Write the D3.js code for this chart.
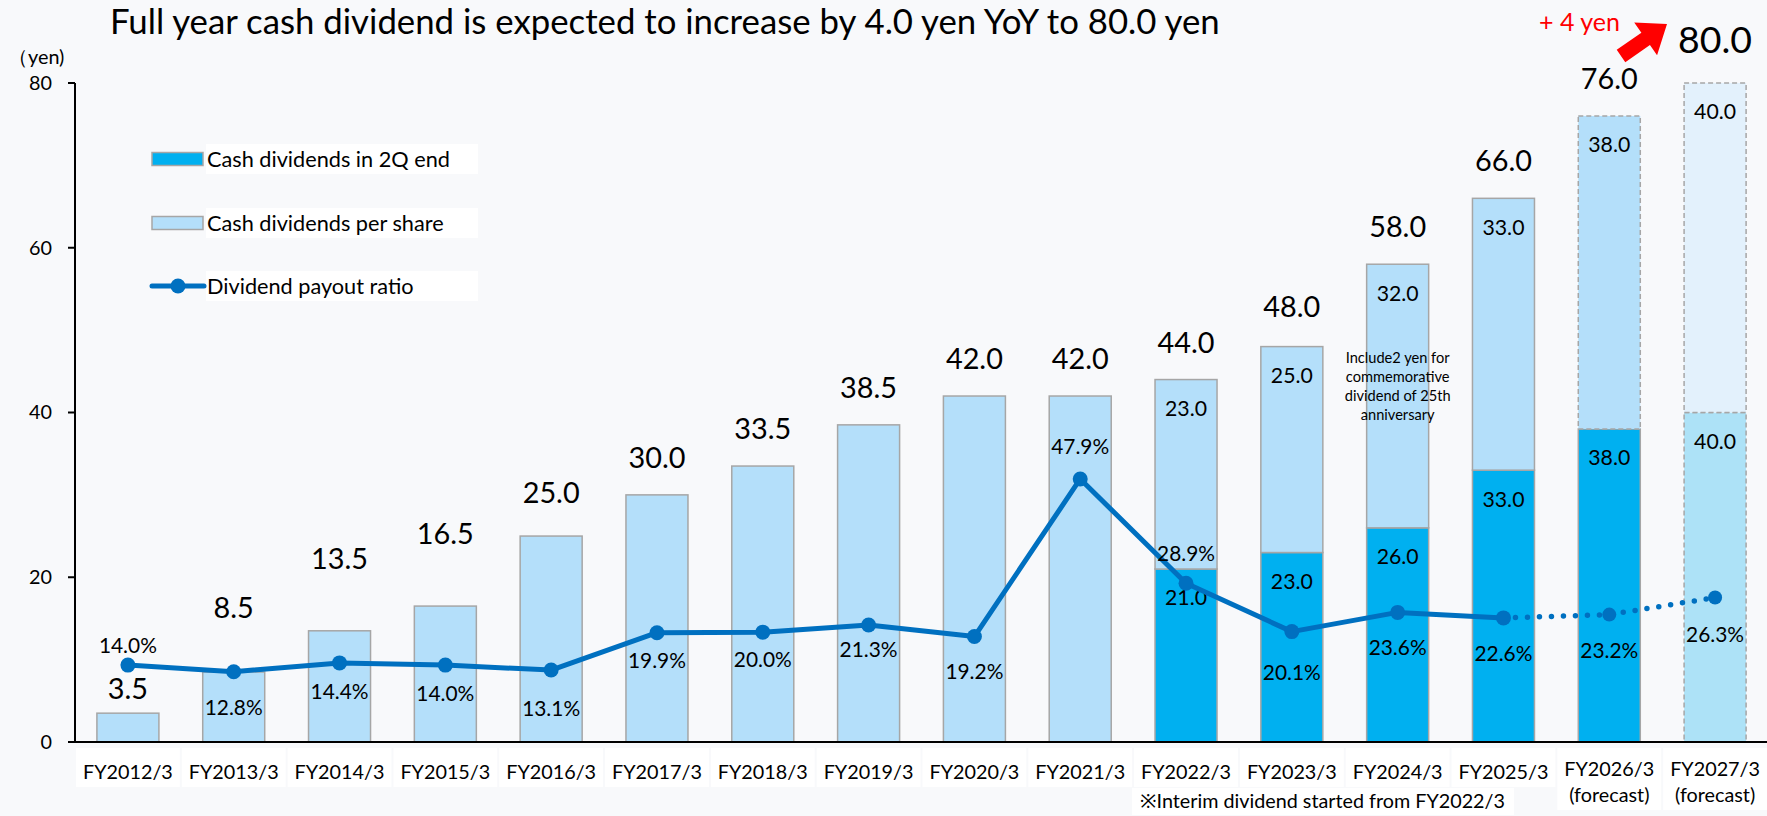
<!DOCTYPE html>
<html>
<head>
<meta charset="utf-8">
<script src="https://cdn.jsdelivr.net/npm/d3@7"></script>
<style>
  html, body { margin: 0; padding: 0; background: #f8f9fb; }
  svg { display: block; }
  text { font-family: Lato, "Noto Sans", sans-serif; fill: #000; }
</style>
</head>
<body>
<svg id="chart" width="1767" height="816"></svg>
<script>
// ---- data ----
const categories = ["FY2012/3", "FY2013/3", "FY2014/3", "FY2015/3", "FY2016/3", "FY2017/3",
  "FY2018/3", "FY2019/3", "FY2020/3", "FY2021/3", "FY2022/3", "FY2023/3", "FY2024/3",
  "FY2025/3", "FY2026/3", "FY2027/3"];
const totalDividend = [3.5, 8.5, 13.5, 16.5, 25.0, 30.0, 33.5, 38.5, 42.0, 42.0, 44.0, 48.0, 58.0, 66.0, 76.0, 80.0];
const interimDividend = [null, null, null, null, null, null, null, null, null, null, 21.0, 23.0, 26.0, 33.0, 38.0, 40.0];
const yearEndDividend = [null, null, null, null, null, null, null, null, null, null, 23.0, 25.0, 32.0, 33.0, 38.0, 40.0];
const payoutRatio = [14.0, 12.8, 14.4, 14.0, 13.1, 19.9, 20.0, 21.3, 19.2, 47.9, 28.9, 20.1, 23.6, 22.6, 23.2, 26.3];
const forecastCategories = ["FY2026/3", "FY2027/3"];
const lastActual = "FY2025/3";
const yTicks = [0, 20, 40, 60, 80];
const titleText = "Full year cash dividend is expected to increase by 4.0 yen YoY to 80.0 yen";
const yUnitText = "（yen)";
const legendItems = ["Cash dividends in 2Q end", "Cash dividends per share", "Dividend payout ratio"];
const noteText = "※Interim dividend started from FY2022/3";
const anniversaryNote = ["Include2 yen for", "commemorative", "dividend of 25th", "anniversary"];
const increaseText = "+ 4 yen";

// ---- layout ----
const svg = d3.select("#chart");
const W = 1767, H = 816;
const plot = { left: 75, right: 1768, top: 83, bottom: 742 };

const C = {
  light: "#b4dffa",
  dark: "#00b0f0",
  fcLight: "#e3f1fc",
  fcLower: "#ade2f7",
  edge: "#a6a6a6",
  line: "#0070c0",
  red: "#ff0000"
};

const x = d3.scaleBand().domain(categories)
  .range([plot.left, plot.right]).paddingInner(0.414).paddingOuter(0.207);
const y = d3.scaleLinear().domain([0, 80]).range([plot.bottom, plot.top]);
const y2 = d3.scaleLinear().domain([0, 120]).range([plot.bottom, plot.top]);
const bw = x.bandwidth();
const cx = c => x(c) + bw / 2;

// font size that makes a sample string span a given width
function fit(sample, width) {
  const t = svg.append("text").attr("font-size", 100).text(sample);
  const w = t.node().getComputedTextLength();
  t.remove();
  return 100 * width / w;
}
const fs = {
  title: fit(titleText, 1110),
  axis: fit("FY2012/3", 90),
  ytick: fit("80", 23),
  legend: fit(legendItems[0], 243),
  total: fit("42.0", 57),
  big: fit("80.0", 74),
  seg: fit("23.0", 42),
  pct: fit("47.9%", 58),
  note: fit(noteText, 365),
  anno: fit(anniversaryNote[0], 104),
  red: fit(increaseText, 81)
};

// ---- title ----
svg.append("text").attr("x", 110).attr("y", 22).attr("dy", "0.35em")
  .attr("font-size", fs.title).text(titleText);

// ---- axes ----
const yAxis = svg.append("g");
yAxis.append("line").attr("x1", plot.left).attr("x2", plot.left)
  .attr("y1", y(80)).attr("y2", y(0)).attr("stroke", "#000").attr("stroke-width", 2);
yAxis.selectAll("line.tick").data(yTicks).join("line").attr("class", "tick")
  .attr("x1", plot.left - 7).attr("x2", plot.left)
  .attr("y1", d => y(d)).attr("y2", d => y(d))
  .attr("stroke", "#000").attr("stroke-width", 2);
yAxis.selectAll("text").data(yTicks).join("text")
  .attr("x", 52).attr("y", d => y(d)).attr("dy", "0.35em")
  .attr("text-anchor", "end").attr("font-size", fs.ytick).text(d => d);
svg.append("text").attr("x", 8).attr("y", 57).attr("dy", "0.35em")
  .attr("font-size", fs.ytick).text(yUnitText);

// ---- bars ----
const rows = categories.map((c, i) => ({
  c, i,
  total: totalDividend[i],
  interim: interimDividend[i],
  yearEnd: yearEndDividend[i],
  forecast: forecastCategories.includes(c)
}));

const segments = [];
rows.forEach(r => {
  if (r.interim == null) {
    segments.push({ c: r.c, v0: 0, v1: r.total, fill: C.light, dash: false });
  } else {
    const last = r.c === categories[categories.length - 1];
    segments.push({ c: r.c, v0: 0, v1: r.interim, value: r.interim,
      fill: last ? C.fcLower : C.dark, dash: last });
    segments.push({ c: r.c, v0: r.interim, v1: r.interim + r.yearEnd, value: r.yearEnd,
      fill: last ? C.fcLight : C.light, dash: r.forecast });
  }
});

svg.append("g").selectAll("rect").data(segments).join("rect")
  .attr("x", d => x(d.c)).attr("width", bw)
  .attr("y", d => y(d.v1)).attr("height", d => y(d.v0) - y(d.v1))
  .attr("fill", d => d.fill)
  .attr("stroke", C.edge).attr("stroke-width", 1.5)
  .attr("stroke-dasharray", d => d.dash ? "5 3" : null);

// values inside stacked segments
svg.append("g").selectAll("text").data(segments.filter(d => d.value != null)).join("text")
  .attr("x", d => cx(d.c)).attr("y", d => y(d.v1) + 29).attr("dy", "0.35em")
  .attr("text-anchor", "middle").attr("font-size", fs.seg)
  .text(d => d.value.toFixed(1));

// totals above bars; a few are moved clear of the ratio line
const totalLift = { "FY2012/3": 24, "FY2013/3": 64, "FY2014/3": 72, "FY2015/3": 72, "FY2016/3": 43, "FY2023/3": 40, "FY2027/3": 43 };
svg.append("g").selectAll("text").data(rows).join("text")
  .attr("x", d => cx(d.c)).attr("y", d => y(d.total) - (totalLift[d.c] || 37)).attr("dy", "0.35em")
  .attr("text-anchor", "middle")
  .attr("font-size", d => d.c === categories[categories.length - 1] ? fs.big : fs.total)
  .text(d => d.total.toFixed(1));

// ---- x axis ----
svg.append("line").attr("x1", plot.left - 7).attr("x2", W)
  .attr("y1", y(0)).attr("y2", y(0)).attr("stroke", "#000").attr("stroke-width", 2);

const xl = svg.append("g");
xl.selectAll("rect").data(rows).join("rect")
  .attr("x", d => x(d.c) - x.step() * 0.207 + 1).attr("width", x.step() - 2)
  .attr("y", 748).attr("height", d => d.forecast ? 62 : 39).attr("fill", "#ffffff");
xl.selectAll("text").data(rows).join("text")
  .attr("x", d => cx(d.c)).attr("y", d => d.forecast ? 769 : 772).attr("dy", "0.35em")
  .attr("text-anchor", "middle").attr("font-size", fs.axis)
  .text(d => d.c);
xl.selectAll("text.fc").data(rows.filter(d => d.forecast)).join("text").attr("class", "fc")
  .attr("x", d => cx(d.c)).attr("y", 795).attr("dy", "0.35em")
  .attr("text-anchor", "middle").attr("font-size", fs.axis)
  .text("(forecast)");

// footnote
svg.append("rect").attr("x", 1132).attr("y", 788).attr("width", 382).attr("height", 27).attr("fill", "#ffffff");
svg.append("text").attr("x", 1140).attr("y", 801).attr("dy", "0.35em")
  .attr("font-size", fs.note).text(noteText);

// ---- payout ratio line ----
const pts = rows.map(r => ({ c: r.c, v: payoutRatio[r.i], x: cx(r.c), y: y2(payoutRatio[r.i]) }));
const splitAt = categories.indexOf(lastActual);
const line = d3.line().x(d => d.x).y(d => d.y);

svg.append("path").attr("d", line(pts.slice(0, splitAt + 1)))
  .attr("fill", "none").attr("stroke", C.line).attr("stroke-width", 5)
  .attr("stroke-linejoin", "round").attr("stroke-linecap", "round");
svg.append("path").attr("d", line(pts.slice(splitAt)))
  .attr("fill", "none").attr("stroke", C.line).attr("stroke-width", 5.5)
  .attr("stroke-dasharray", "0 12").attr("stroke-linecap", "round");
svg.append("g").selectAll("circle").data(pts).join("circle")
  .attr("cx", d => d.x).attr("cy", d => d.y)
  .attr("r", d => forecastCategories.includes(d.c) ? 7 : 7.5)
  .attr("fill", C.line);

// ratio labels: positive offsets sit below the marker, negative above
const ratioDy = { "FY2012/3": -19, "FY2013/3": 36, "FY2014/3": 29, "FY2015/3": 29, "FY2016/3": 39,
  "FY2017/3": 28, "FY2018/3": 28, "FY2019/3": 25, "FY2020/3": 35, "FY2021/3": -32, "FY2022/3": -30,
  "FY2023/3": 41, "FY2024/3": 35, "FY2025/3": 36, "FY2026/3": 36, "FY2027/3": 37 };
svg.append("g").selectAll("text").data(pts).join("text")
  .attr("x", d => d.x).attr("y", d => d.y + ratioDy[d.c]).attr("dy", "0.35em")
  .attr("text-anchor", "middle").attr("font-size", fs.pct)
  .text(d => d.v.toFixed(1) + "%");

// ---- anniversary note ----
svg.append("g").selectAll("text").data(anniversaryNote).join("text")
  .attr("x", cx("FY2024/3")).attr("y", (d, i) => 358 + i * 18.8).attr("dy", "0.35em")
  .attr("text-anchor", "middle").attr("font-size", fs.anno).text(d => d);

// ---- legend ----
const lg = svg.append("g");
const legendY = [159, 223, 286];
lg.selectAll("rect.bg").data(legendItems).join("rect").attr("class", "bg")
  .attr("x", 206).attr("y", (d, i) => legendY[i] - 15).attr("width", 272).attr("height", 30)
  .attr("fill", "#ffffff");
lg.append("rect").attr("x", 152).attr("y", legendY[0] - 6.5).attr("width", 51).attr("height", 13)
  .attr("fill", C.dark).attr("stroke", C.edge).attr("stroke-width", 1.5);
lg.append("rect").attr("x", 152).attr("y", legendY[1] - 6.5).attr("width", 51).attr("height", 13)
  .attr("fill", C.light).attr("stroke", C.edge).attr("stroke-width", 1.5);
lg.append("line").attr("x1", 152).attr("x2", 204).attr("y1", legendY[2]).attr("y2", legendY[2])
  .attr("stroke", C.line).attr("stroke-width", 5).attr("stroke-linecap", "round");
lg.append("circle").attr("cx", 178).attr("cy", legendY[2]).attr("r", 7.5).attr("fill", C.line);
lg.selectAll("text").data(legendItems).join("text")
  .attr("x", 207).attr("y", (d, i) => legendY[i]).attr("dy", "0.35em")
  .attr("font-size", fs.legend).text(d => d);

// ---- increase arrow ----
(function arrow() {
  const tail = [1621, 56], tip = [1667, 24];
  const shaftW = 15, headW = 40, headL = 26;
  const dx = tip[0] - tail[0], dy = tip[1] - tail[1];
  const len = Math.hypot(dx, dy);
  const ux = dx / len, uy = dy / len, px = -uy, py = ux;
  const bx = tip[0] - ux * headL, by = tip[1] - uy * headL;
  const p = [
    [tail[0] + px * shaftW / 2, tail[1] + py * shaftW / 2],
    [bx + px * shaftW / 2, by + py * shaftW / 2],
    [bx + px * headW / 2, by + py * headW / 2],
    tip,
    [bx - px * headW / 2, by - py * headW / 2],
    [bx - px * shaftW / 2, by - py * shaftW / 2],
    [tail[0] - px * shaftW / 2, tail[1] - py * shaftW / 2]
  ];
  svg.append("path").attr("d", "M" + p.map(q => q.join(",")).join("L") + "Z").attr("fill", C.red);
})();
svg.append("text").attr("x", 1539).attr("y", 22).attr("dy", "0.35em")
  .attr("font-size", fs.red).style("fill", C.red).text(increaseText);
</script>
</body>
</html>
